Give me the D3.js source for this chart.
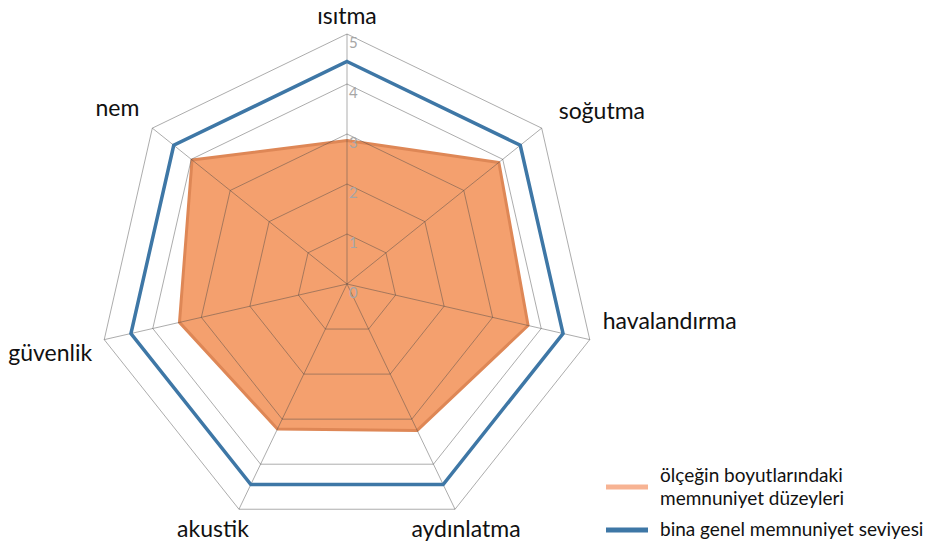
<!DOCTYPE html>
<html lang="tr">
<head>
    <meta charset="UTF-8">
    <style>
        body { margin: 0; background: #fff; }
        svg { display: block; font-family: Lato, "Open Sans", sans-serif; }
    </style>
</head>
<body>
    <script src="https://d3js.org/d3.v7.min.js"></script>
    <div id="here"></div>

    <script>
        // axes, clockwise from the top
        const axes = ["ısıtma", "soğutma", "havalandırma", "aydınlatma", "akustik", "güvenlik", "nem"];
        // satisfaction per dimension of the scale
        const dimensionValues = [2.87, 3.9, 3.73, 3.25, 3.22, 3.45, 3.98];
        // overall building satisfaction
        const overallValues = [4.45, 4.45, 4.45, 4.45, 4.45, 4.45, 4.45];
        const ticks = [0, 1, 2, 3, 4, 5];
        const seriesNames = [["ölçeğin boyutlarındaki", "memnuniyet düzeyleri"], ["bina genel memnuniyet seviyesi"]];

        const width = 927, height = 550;
        const cx = 347, cy = 284, rx = 249, ry = 250;
        const maxV = 5;

        const svg = d3.select("#here")
            .append("svg")
                .attr("width", width)
                .attr("height", height);

        // cartesian value space -> screen
        const x = d3.scaleLinear().domain([-maxV, maxV]).range([cx - rx, cx + rx]);
        const y = d3.scaleLinear().domain([-maxV, maxV]).range([cy + ry, cy - ry]);
        const angle = d3.scaleLinear().domain([0, axes.length]).range([0, 2 * Math.PI]);

        const pt = (v, i) => [x(v * Math.sin(angle(i))), y(v * Math.cos(angle(i)))];
        const ring = vals => d3.line()(vals.map((v, i) => pt(v, i))) + "Z";

        // orange area
        svg.append("path")
            .attr("d", ring(dimensionValues))
            .attr("fill", "#F4A06E")
            .attr("stroke", "#DE8756")
            .attr("stroke-width", 3)
            .attr("stroke-linejoin", "round");

        // grid rings + spokes on top (semi transparent so they darken over the fill)
        const grid = svg.append("g")
            .attr("fill", "none")
            .attr("stroke", "rgba(70,70,70,0.45)")
            .attr("stroke-width", 1);

        grid.selectAll("path")
            .data(ticks.filter(t => t > 0))
            .join("path")
            .attr("d", t => ring(axes.map(() => t)));

        grid.selectAll("line")
            .data(axes)
            .join("line")
            .attr("x1", x(0))
            .attr("y1", y(0))
            .attr("x2", (_, i) => pt(maxV, i)[0])
            .attr("y2", (_, i) => pt(maxV, i)[1]);

        // blue line
        svg.append("path")
            .attr("d", ring(overallValues))
            .attr("fill", "none")
            .attr("stroke", "#3E77A6")
            .attr("stroke-width", 3.5)
            .attr("stroke-linejoin", "miter");

        // tick labels along the first axis
        svg.append("g")
            .selectAll("text")
            .data(ticks)
            .join("text")
            .attr("x", x(0) + 2)
            .attr("y", t => y(t) + 14)
            .attr("font-size", 15)
            .attr("fill", "#A6A6A6")
            .text(t => t);

        // category labels (nudges relative to the outer vertex)
        const nudge = [[0, -10, "middle"], [17, -9, "start"], [13, -11, "start"], [11, 28, "middle"],
                       [-26, 28, "middle"], [-12, 21, "end"], [-13, -12, "end"]];
        svg.append("g")
            .selectAll("text")
            .data(axes)
            .join("text")
            .attr("x", (_, i) => pt(maxV, i)[0] + nudge[i][0])
            .attr("y", (_, i) => pt(maxV, i)[1] + nudge[i][1])
            .attr("text-anchor", (_, i) => nudge[i][2])
            .attr("font-size", 23)
            .attr("fill", "#111")
            .text(d => d);

        // legend
        const legendColors = ["#F7B393", "#3E77A6"];
        const legend = svg.append("g").attr("transform", "translate(606,0)");
        const legendRows = [487, 530];
        seriesNames.forEach((lines, k) => {
            legend.append("line")
                .attr("x1", 0).attr("x2", 42)
                .attr("y1", legendRows[k]).attr("y2", legendRows[k])
                .attr("stroke", legendColors[k])
                .attr("stroke-width", 5);
            legend.append("text")
                .attr("x", 54)
                .attr("y", legendRows[k] - (lines.length - 1) * 11.5 + 6)
                .attr("font-size", 19)
                .attr("fill", "#111")
                .selectAll("tspan")
                .data(lines)
                .join("tspan")
                .attr("x", 54)
                .attr("dy", (_, j) => j ? 23 : 0)
                .text(d => d);
        });
    </script>
</body>
</html>
